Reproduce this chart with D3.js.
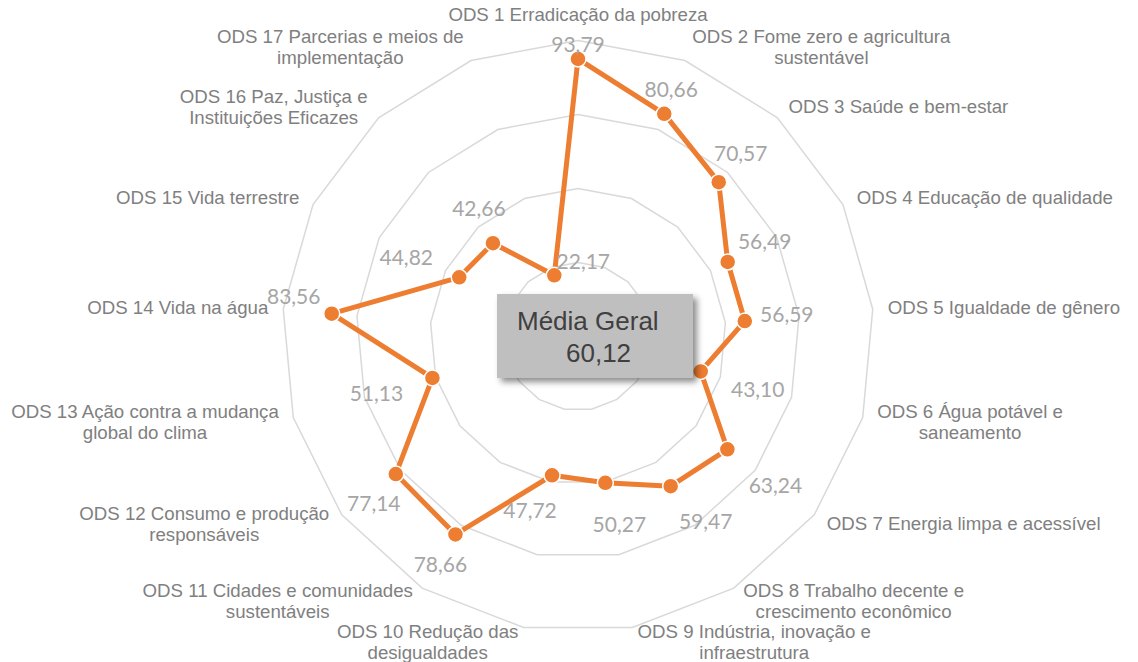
<!DOCTYPE html>
<html>
<head>
<meta charset="utf-8">
<script src="https://cdn.jsdelivr.net/npm/d3@7"></script>
<style>
  body { margin: 0; background: #fff; }
</style>
</head>
<body>
<div id="container"></div>
<script>
// data
let categories = [
  "ODS 1 Erradicação da pobreza",
  "ODS 2 Fome zero e agricultura\nsustentável",
  "ODS 3 Saúde e bem-estar",
  "ODS 4 Educação de qualidade",
  "ODS 5 Igualdade de gênero",
  "ODS 6 Água potável e\nsaneamento",
  "ODS 7 Energia limpa e acessível",
  "ODS 8 Trabalho decente e\ncrescimento econômico",
  "ODS 9 Indústria, inovação e\ninfraestrutura",
  "ODS 10 Redução das\ndesigualdades",
  "ODS 11 Cidades e comunidades\nsustentáveis",
  "ODS 12 Consumo e produção\nresponsáveis",
  "ODS 13 Ação contra a mudança\nglobal do clima",
  "ODS 14 Vida na água",
  "ODS 15 Vida terrestre",
  "ODS 16 Paz, Justiça e\nInstituições Eficazes",
  "ODS 17 Parcerias e meios de\nimplementação"
];
let values = [93.79, 80.66, 70.57, 56.49, 56.59, 43.10, 63.24, 59.47, 50.27,
              47.72, 78.66, 77.14, 51.13, 83.56, 44.82, 42.66, 22.17];
let gridLevels = [25, 50, 75, 100];
let boxTitle = "Média Geral";

// label nudges (px) for value labels, relative to each point
let labelNudge = [
  [0, -14], [7, -24], [22, -29], [37, -21], [42, -7], [57, 18], [48, 36],
  [35, 35], [14, 42], [-22, 35], [-15, 30], [-22, 29], [-56, 16], [-38, -17],
  [-53, -20], [-14, -35], [29, -14]
];

let orange = "#ED7D31";
let gridGray = "#D9D9D9";
let catGray = "#808080";
let valGray = "#A6A6A6";

let width = 1138, height = 662;
let cx = 578, cy = 336.5, R = 296;

let svg = d3.select("#container")
  .append("svg")
    .attr("width", width)
    .attr("height", height)
    .style("background-color", "white");

let defs = svg.append("defs");
let shadow = defs.append("filter")
  .attr("id", "shadow")
  .attr("x", "-20%").attr("y", "-20%")
  .attr("width", "140%").attr("height", "150%");
shadow.append("feDropShadow")
  .attr("dx", 4).attr("dy", 4)
  .attr("stdDeviation", 3)
  .attr("flood-color", "#000")
  .attr("flood-opacity", 0.45);

let n = categories.length;
let angle = d3.scaleLinear().domain([0, n]).range([0, 2 * Math.PI]);
let r = d3.scaleLinear().domain([0, 100]).range([0, R]);

let g = svg.append("g").attr("transform", `translate(${cx},${cy})`);

// grid rings
let ringLine = d3.lineRadial()
  .angle((d, i) => angle(i))
  .radius(d => r(d))
  .curve(d3.curveLinearClosed);

g.selectAll(".ring")
  .data(gridLevels)
  .join("path")
    .attr("class", "ring")
    .attr("d", lv => ringLine(categories.map(() => lv)))
    .attr("fill", "none")
    .attr("stroke", gridGray)
    .attr("stroke-width", 1.5);

// category labels
let catFont = 18.67, lineH = 21;
categories.forEach((c, i) => {
  let a = angle(i);
  let s = Math.sin(a), co = Math.cos(a);
  let [vx, vy] = d3.pointRadial(a, r(100));
  let lines = c.split("\n");
  let t = g.append("text")
    .attr("font-family", "Liberation Sans, Arial, sans-serif")
    .attr("font-size", catFont)
    .attr("fill", catGray)
    .attr("text-anchor", "middle");
  lines.forEach((ln, j) => {
    t.append("tspan").text(ln).attr("x", 0).attr("y", j * lineH);
  });
  let w = d3.max(t.selectAll("tspan").nodes(), nd => nd.getComputedTextLength());
  let gap = 3 + 12 * Math.abs(s);
  let bx;
  if (i === 0) bx = vx;
  else if (s > 0) bx = vx + gap + w / 2;
  else bx = vx - gap - w / 2;
  let by = vy - co * (i === 0 ? 26 : 15);
  let top = by - (lines.length - 1) * lineH / 2;
  t.selectAll("tspan")
    .attr("x", bx)
    .attr("y", (d, j) => top + j * lineH)
    .attr("dy", "0.35em");
});

// Média Geral box
let mean = d3.mean(values);
let fmt = v => d3.format(".2f")(v).replace(".", ",");
svg.append("rect")
  .attr("x", 497).attr("y", 294)
  .attr("width", 196).attr("height", 84)
  .attr("fill", "#BFBFBF")
  .attr("filter", "url(#shadow)");
svg.append("text")
  .text(boxTitle)
  .attr("x", 517).attr("y", 330)
  .attr("font-family", "Liberation Sans, Arial, sans-serif")
  .attr("font-size", 26)
  .attr("fill", "#404040");
svg.append("text")
  .text(fmt(mean))
  .attr("x", 566).attr("y", 362)
  .attr("font-family", "Liberation Sans, Arial, sans-serif")
  .attr("font-size", 26)
  .attr("fill", "#404040");

// series line
g.append("path")
  .datum(values)
  .attr("d", ringLine)
  .attr("fill", "none")
  .attr("stroke", orange)
  .attr("stroke-width", 5)
  .attr("stroke-linejoin", "round");

g.selectAll(".dot")
  .data(values)
  .join("circle")
    .attr("class", "dot")
    .attr("cx", (d, i) => d3.pointRadial(angle(i), r(d))[0])
    .attr("cy", (d, i) => d3.pointRadial(angle(i), r(d))[1])
    .attr("r", 8)
    .attr("fill", orange)
    .attr("stroke", "white")
    .attr("stroke-width", 1.5);

// value labels
g.selectAll(".val")
  .data(values)
  .join("text")
    .attr("class", "val")
    .text(d => fmt(d))
    .attr("x", (d, i) => d3.pointRadial(angle(i), r(d))[0] + labelNudge[i][0])
    .attr("y", (d, i) => d3.pointRadial(angle(i), r(d))[1] + labelNudge[i][1])
    .attr("dy", "0.36em")
    .attr("text-anchor", "middle")
    .attr("font-family", "Lato, sans-serif")
    .attr("font-size", 21)
    .attr("fill", valGray);
</script>
</body>
</html>
